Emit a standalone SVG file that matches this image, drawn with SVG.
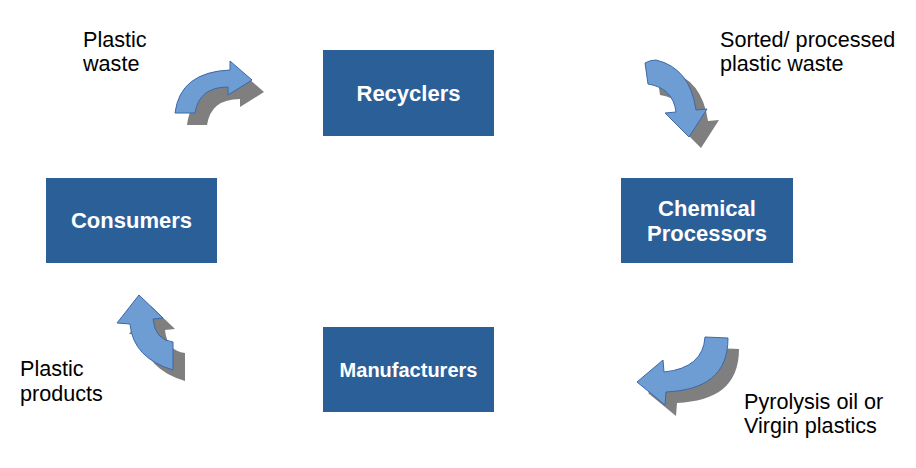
<svg xmlns="http://www.w3.org/2000/svg" width="916" height="468" viewBox="0 0 916 468">
<style>
.box{fill:#2B5F98}
.bt{font-family:"Liberation Sans",Arial,sans-serif;font-weight:bold;fill:#fff;text-anchor:middle;font-size:22px}
.lt{font-family:"Liberation Sans",Arial,sans-serif;fill:#000;font-size:21.6px}
.ar{fill:#6E9DD3;stroke:#3C68A8;stroke-width:1}
.sh{fill:#7F7F7F}
</style>
<rect width="916" height="468" fill="#fff"/>
<g id="recyclers"><rect class="box" x="323" y="50" width="171" height="86"/><text class="bt" x="408.5" y="101">Recyclers</text></g>
<g id="consumers"><rect class="box" x="46" y="178" width="171" height="85"/><text class="bt" x="131.5" y="228">Consumers</text></g>
<g id="chemical"><rect class="box" x="621" y="178" width="172" height="85"/><text class="bt" x="707" y="216">Chemical</text><text class="bt" x="707" y="241">Processors</text></g>
<g id="manufacturers"><rect class="box" x="323" y="327" width="171" height="85"/><text class="bt" x="408.5" y="377" style="font-size:20px">Manufacturers</text></g>
<g id="connectors">
<g id="a1">
<path class="sh" transform="translate(12,12)" d="M175,113 Q180,72 230,70 L230,61 L252,80 L228,95 L228,87 Q199,87 195,113 Z"/>
<path class="ar" d="M175,113 Q180,72 230,70 L230,61 L252,80 L228,95 L228,87 Q199,87 195,113 Z"/>
<text class="lt" x="83" y="47">Plastic</text><text class="lt" x="83" y="71">waste</text>
</g>
<g id="a2">
<path class="sh" transform="translate(12,11)" d="M645,63 Q650,60 656,60 Q690,68 696,110 L707,109 L689,137 L665,113 L676,112 Q673,88 648,84 Z"/>
<path class="ar" d="M645,63 Q650,60 656,60 Q690,68 696,110 L707,109 L689,137 L665,113 L676,112 Q673,88 648,84 Z"/>
<text class="lt" x="720" y="47">Sorted/ processed</text><text class="lt" x="720" y="71">plastic waste</text>
</g>
<g id="a3">
<path class="sh" transform="translate(11,11)" d="M705,337 L728,338 C728,375 705,390 666,392 L665,405 L637,382 L663,360 L664,372 Q703,368 705,337 Z"/>
<path class="ar" d="M705,337 L728,338 C728,375 705,390 666,392 L665,405 L637,382 L663,360 L664,372 Q703,368 705,337 Z"/>
<text class="lt" x="744" y="409">Pyrolysis oil or</text><text class="lt" x="744" y="433">Virgin plastics</text>
</g>
<g id="a4">
<path class="sh" transform="translate(12,11)" d="M139,295 L163,318 L153,319 Q155,340 173,342 L173,370 Q133,358 130,324 L117,323 Z"/>
<path class="ar" d="M139,295 L163,318 L153,319 Q155,340 173,342 L173,370 Q133,358 130,324 L117,323 Z"/>
<text class="lt" x="20" y="376">Plastic</text><text class="lt" x="20" y="401">products</text>
</g>
</g>
</svg>
